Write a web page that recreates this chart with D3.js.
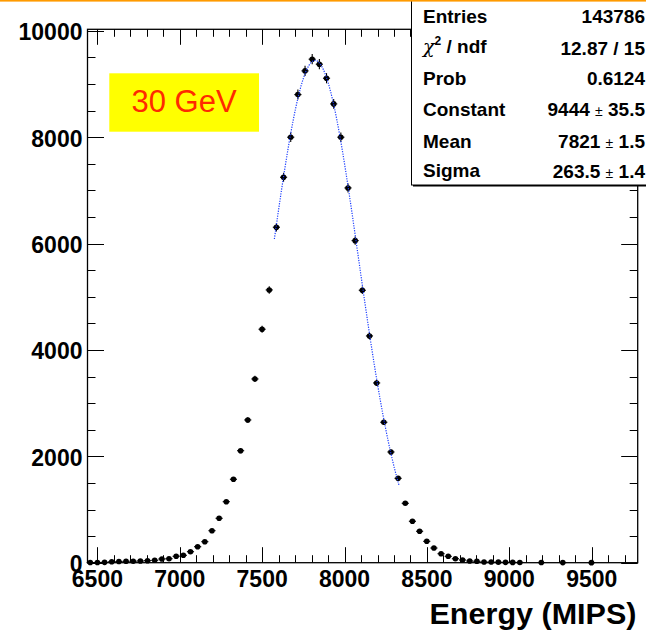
<!DOCTYPE html>
<html>
<head>
<meta charset="utf-8">
<script src="https://cdn.jsdelivr.net/npm/d3@7"></script>
<style>
  body { margin: 0; background: #fff; }
  svg { display: block; }
  text { font-family: "Liberation Sans", Arial, Helvetica, sans-serif; }
</style>
</head>
<body>
<svg id="chart" width="646" height="633"></svg>
<script>
// Histogram binning (energy in MIPs)
const binLow = 6435;
const binWidth = 43.45;

// Bin contents, one entry per bin
const counts = [
  3, 4, 7, 19, 22, 26, 28, 32, 38, 45,
  70, 75, 120, 139, 207, 301, 395, 602, 835, 1147,
  1569, 2106, 2684, 3455, 4390, 5129, 6308, 7248, 8001, 8802,
  9248, 9468, 9374, 9110, 8627, 8001, 7047, 6056, 5123, 4264,
  3380, 2641, 2082, 1587, 1117, 779, 591, 402, 276, 169,
  120, 75, 51, 32, 26, 13, 12, 10, 7, 6,
  5, 0, 0, 3, 0, 0, 2, 0, 0, 0,
  1, 0, 0, 0, 0, 0, 0
];

// Gaussian fit: parameters and range
const fitConstant = 9444;
const fitMean = 7821;
const fitSigma = 263.5;
const fitRange = [7574, 8331];

// Axis ranges and ticks
const xDomain = [6440, 9779];
const yDomain = [0, 10030];
const xMajorTicks = [6500, 7000, 7500, 8000, 8500, 9000, 9500];
const yMajorTicks = [0, 2000, 4000, 6000, 8000, 10000];

// Statistics box
const statNames = ["Entries", "chi2", "Prob", "Constant", "Mean", "Sigma"];
const statValues = ["143786", "12.87 / 15", "0.6124", ["9444", "35.5"], ["7821", "1.5"], ["263.5", "1.4"]];

const beamLabel = "30 GeV";
const xTitle = "Energy (MIPS)";

// ---------------------------------------------------------------
const svg = d3.select("#chart");
const W = 646, H = 633;
const frame = { left: 87.5, right: 637.7, top: 29.3, bottom: 562.7 };

const x = d3.scaleLinear().domain(xDomain).range([frame.left, frame.right]);
const y = d3.scaleLinear().domain(yDomain).range([frame.bottom, frame.top]);

svg.append("rect").attr("width", W).attr("height", H).attr("fill", "#fff");

// tick sets
const xMinor = d3.range(6500, 9780, 100).filter(v => v >= xDomain[0] && v <= xDomain[1]);
const yMinor = d3.range(0, 10031, 500);

const tickG = svg.append("g").attr("stroke", "#000").attr("stroke-width", 1);
// bottom & top ticks
xMinor.forEach(v => {
  const major = v % 500 === 0;
  const len = major ? 15.5 : 7.5;
  const px = Math.round(x(v)) + 0.5;
  tickG.append("line").attr("x1", px).attr("x2", px)
    .attr("y1", frame.bottom).attr("y2", frame.bottom - len);
  tickG.append("line").attr("x1", px).attr("x2", px)
    .attr("y1", frame.top).attr("y2", frame.top + len);
});
// left & right ticks
yMinor.forEach(v => {
  const major = v % 2000 === 0;
  const len = major ? 16.5 : 8;
  const py = Math.round(y(v)) + 0.5;
  tickG.append("line").attr("x1", frame.left).attr("x2", frame.left + len)
    .attr("y1", py).attr("y2", py);
  tickG.append("line").attr("x1", frame.right).attr("x2", frame.right - len)
    .attr("y1", py).attr("y2", py);
});

// frame
svg.append("rect")
  .attr("x", frame.left).attr("y", frame.top)
  .attr("width", frame.right - frame.left).attr("height", frame.bottom - frame.top)
  .attr("fill", "none").attr("stroke", "#000").attr("stroke-width", 1.3);

// tick labels
svg.append("g").selectAll("text").data(xMajorTicks).join("text")
  .attr("x", d => x(d)).attr("y", 587.3)
  .attr("text-anchor", "middle")
  .attr("font-size", 23).attr("font-weight", "bold")
  .text(d => d);

svg.append("g").selectAll("text").data(yMajorTicks).join("text")
  .attr("x", 82.5).attr("y", d => y(d) + 9.5)
  .attr("text-anchor", "end")
  .attr("font-size", 23).attr("font-weight", "bold")
  .text(d => d);

// axis title
svg.append("text")
  .attr("x", 429.5).attr("y", 624)
  .attr("font-size", 29).attr("font-weight", "bold")
  .attr("textLength", 207).attr("lengthAdjust", "spacingAndGlyphs")
  .text(xTitle);

// label box
svg.append("rect").attr("x", 109.3).attr("y", 73.3).attr("width", 149.7).attr("height", 58.4)
  .attr("fill", "#ffff00");
svg.append("text").attr("x", 184).attr("y", 112)
  .attr("text-anchor", "middle").attr("font-size", 31).attr("fill", "#ff2a00")
  .text(beamLabel);

// histogram points (non-empty bins) with statistical errors
const bins = counts.map((c, i) => ({ center: binLow + (i + 0.5) * binWidth, count: c }))
  .filter(b => b.count > 0);

const errG = svg.append("g").attr("stroke", "#000").attr("stroke-width", 1.1);
bins.forEach(b => {
  const cx = x(b.center), cy = y(b.count);
  const e = Math.sqrt(b.count);
  errG.append("line").attr("x1", cx).attr("x2", cx).attr("y1", y(b.count - e)).attr("y2", y(b.count + e));
  errG.append("line").attr("x1", x(b.center - binWidth / 2)).attr("x2", x(b.center + binWidth / 2))
    .attr("y1", cy).attr("y2", cy);
});

svg.append("g").selectAll("circle").data(bins).join("circle")
  .attr("cx", d => x(d.center)).attr("cy", d => y(d.count))
  .attr("r", 2.8).attr("fill", "#000");

// fitted gaussian
const gauss = v => fitConstant * Math.exp(-0.5 * Math.pow((v - fitMean) / fitSigma, 2));
const fitPts = d3.range(fitRange[0], fitRange[1] + 0.01, 2).map(v => [v, gauss(v)]);
svg.append("path")
  .attr("d", d3.line().x(d => x(d[0])).y(d => y(d[1]))(fitPts))
  .attr("fill", "none").attr("stroke", "#1a3cff").attr("stroke-width", 1.2)
  .attr("stroke-dasharray", "1.2,1.3");

// statistics box
const box = { x: 411.5, y: -2, w: 240, h: 187 };
svg.append("rect").attr("x", box.x + 1.5).attr("y", box.y + 1.5).attr("width", box.w).attr("height", box.h)
  .attr("fill", "#000");
svg.append("rect").attr("x", box.x).attr("y", box.y).attr("width", box.w).attr("height", box.h)
  .attr("fill", "#fff").attr("stroke", "#000").attr("stroke-width", 1);

const leftBase = [23.3, 53.3, 85, 116, 147.7, 176.7];
const rightBase = [23.3, 55, 85, 116, 147.7, 178.3];
const statFont = 19;

statNames.forEach((name, i) => {
  const t = svg.append("text").attr("x", 423).attr("y", leftBase[i])
    .attr("font-size", statFont).attr("font-weight", "bold");
  if (name === "chi2") {
    t.append("tspan").attr("font-weight", "normal").attr("font-family", "DejaVu Serif, serif")
      .attr("font-style", "italic").attr("font-size", 19).text("χ");
    t.append("tspan").attr("font-size", 12).attr("dy", -8).attr("font-weight", "bold").text("2");
    t.append("tspan").attr("dy", 8).text(" / ndf");
  } else {
    t.text(name);
  }
});

statValues.forEach((val, i) => {
  const t = svg.append("text").attr("x", 645).attr("y", rightBase[i])
    .attr("text-anchor", "end").attr("font-size", statFont).attr("font-weight", "bold");
  if (Array.isArray(val)) {
    t.append("tspan").text(val[0] + " ");
    t.append("tspan").attr("font-weight", "normal").attr("font-size", 14).text("±");
    t.append("tspan").text(" " + val[1]);
  } else {
    t.text(val);
  }
});

// thin orange strip along the top edge of the canvas
svg.append("rect").attr("x", 0).attr("y", 0).attr("width", W).attr("height", 1.6)
  .attr("fill", "#ff9a00");
</script>
</body>
</html>
